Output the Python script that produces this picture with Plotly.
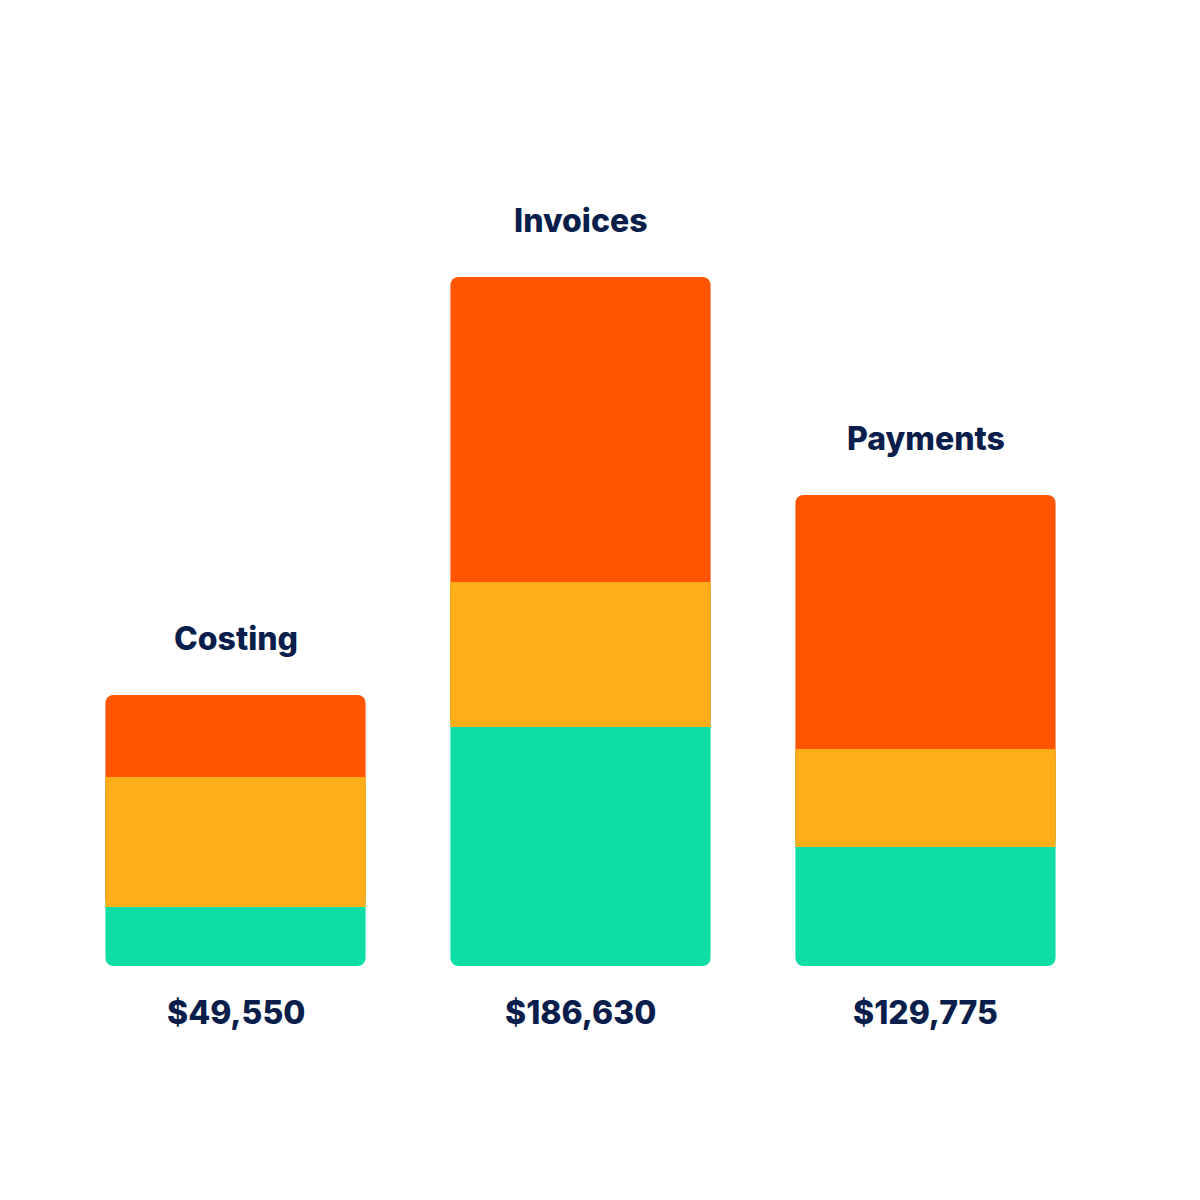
import plotly.graph_objects as go

categories = ["Costing", "Invoices", "Payments"]
total_labels = ["$49,550", "$186,630", "$129,775"]
green_vals = [59, 239, 119]
yellow_vals = [130, 145, 98]
orange_vals = [82, 305, 254]

ORANGE = "#FF5500"
YELLOW = "#FFAE1A"
GREEN = "#0EDDA6"
NAVY = "#0A1E4C"
BAR_W = 0.754
RADIUS = 8

zeros = [0] * len(categories)
green_plus_yellow = [g + y for g, y in zip(green_vals, yellow_vals)]
yellow_plus_orange = [y + o for y, o in zip(yellow_vals, orange_vals)]
tops = [g + y + o for g, y, o in zip(green_vals, yellow_vals, orange_vals)]

fig = go.Figure()
# green layer (rounded bottom; its top is hidden under the yellow layer)
fig.add_trace(go.Bar(x=categories, y=green_plus_yellow, base=zeros, width=BAR_W,
                     marker=dict(color=GREEN, cornerradius=RADIUS, line=dict(width=0)),
                     hoverinfo="skip", showlegend=False))
# orange layer (rounded top; its bottom is hidden under the yellow layer)
fig.add_trace(go.Bar(x=categories, y=yellow_plus_orange, base=green_vals, width=BAR_W,
                     marker=dict(color=ORANGE, cornerradius=RADIUS, line=dict(width=0)),
                     hoverinfo="skip", showlegend=False))
# yellow middle segment, square corners
fig.add_trace(go.Bar(x=categories, y=yellow_vals, base=green_vals, width=BAR_W,
                     marker=dict(color=YELLOW, cornerradius=0, line=dict(width=0)),
                     hoverinfo="skip", showlegend=False))

font = dict(family="Inter", size=32, color=NAVY, weight=800)
for c, t, lab in zip(categories, tops, total_labels):
    fig.add_annotation(x=c, y=t, text=c, showarrow=False, yanchor="middle",
                       yshift=57, font=font)
    fig.add_annotation(x=c, y=0, text=lab, showarrow=False, yanchor="middle",
                       yshift=-46, font=font)

fig.update_layout(
    width=1200, height=1200,
    barmode="overlay",
    paper_bgcolor="white", plot_bgcolor="white",
    margin=dict(l=55, r=110, t=57, b=242),
    xaxis=dict(visible=False, range=[-0.5, 2.5]),
    yaxis=dict(visible=False, range=[0, 901]),
)
fig.write_html("out.html")
